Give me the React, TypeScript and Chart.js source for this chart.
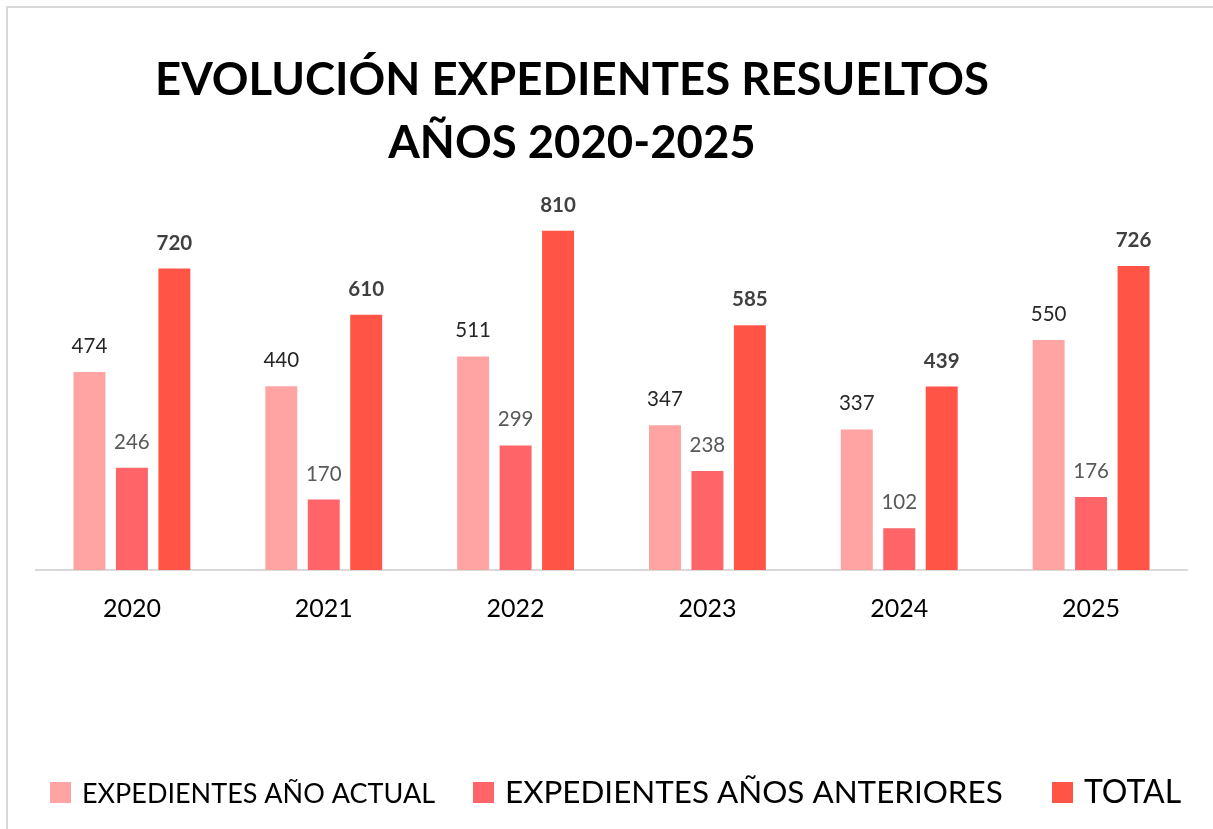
import React, { useEffect, useRef } from "react";
import { Chart, registerables } from "chart.js";

Chart.register(...registerables);

// ---- Data ----
const YEARS = ["2020", "2021", "2022", "2023", "2024", "2025"];
const ACTUAL = [474, 440, 511, 347, 337, 550];
const ANTERIORES = [246, 170, 299, 238, 102, 176];
const TOTAL = [720, 610, 810, 585, 439, 726];
const SERIES_NAMES = ["EXPEDIENTES AÑO ACTUAL", "EXPEDIENTES AÑOS ANTERIORES", "TOTAL"];
const SERIES_COLORS = ["#FFA3A3", "#FF6469", "#FF5446"];
const TITLE_LINES = ["EVOLUCIÓN EXPEDIENTES RESUELTOS", "AÑOS 2020-2025"];

const FONT = "Lato, 'Open Sans', sans-serif";

const titlePlugin = {
  id: "customTitle",
  afterDraw(chart: any) {
    const ctx = chart.ctx;
    ctx.save();
    ctx.fillStyle = "#000000";
    ctx.textAlign = "center";
    ctx.textBaseline = "alphabetic";
    ctx.font = `bold 45.5px ${FONT}`;
    ctx.fillText(TITLE_LINES[0], 572, 95);
    ctx.fillText(TITLE_LINES[1], 572, 158);
    ctx.restore();
  },
};

const LABEL_STYLES = [
  { font: `20.5px ${FONT}`, color: "#262626" },
  { font: `20.5px ${FONT}`, color: "#595959" },
  { font: `bold 20.5px ${FONT}`, color: "#404040" },
];

const valueLabelPlugin = {
  id: "valueLabels",
  afterDatasetsDraw(chart: any) {
    const ctx = chart.ctx;
    ctx.save();
    ctx.textAlign = "center";
    ctx.textBaseline = "alphabetic";
    chart.data.datasets.forEach((ds: any, i: number) => {
      const meta = chart.getDatasetMeta(i);
      ctx.font = LABEL_STYLES[i].font;
      ctx.fillStyle = LABEL_STYLES[i].color;
      meta.data.forEach((bar: any, j: number) => {
        ctx.fillText(String(ds.data[j]), bar.x, bar.y - 18);
      });
    });
    ctx.restore();
  },
};

const LEGEND_LAYOUT = [
  { boxX: 50, size: 27 },
  { boxX: 473, size: 31.4 },
  { boxX: 1052, size: 32 },
];

const legendPlugin = {
  id: "customLegend",
  afterDraw(chart: any) {
    const ctx = chart.ctx;
    ctx.save();
    ctx.textAlign = "left";
    ctx.textBaseline = "alphabetic";
    chart.data.datasets.forEach((ds: any, i: number) => {
      const L = LEGEND_LAYOUT[i];
      ctx.fillStyle = ds.backgroundColor;
      ctx.fillRect(L.boxX, 782, 21, 21);
      ctx.fillStyle = "#000000";
      ctx.font = `${L.size}px ${FONT}`;
      ctx.fillText(ds.label, L.boxX + 32, 803);
    });
    ctx.restore();
  },
};

export default function App() {
  const canvasRef = useRef<HTMLCanvasElement | null>(null);

  useEffect(() => {
    if (!canvasRef.current) return;
    const series = [ACTUAL, ANTERIORES, TOTAL];
    const chart = new Chart(canvasRef.current, {
      type: "bar",
      data: {
        labels: YEARS,
        datasets: series.map((d, i) => ({
          label: SERIES_NAMES[i],
          data: d,
          backgroundColor: SERIES_COLORS[i],
          borderColor: "rgba(255,255,255,0.35)",
          borderWidth: 1,
          categoryPercentage: 0.664,
          barPercentage: 0.8,
        })),
      },
      options: {
        responsive: false,
        animation: false,
        devicePixelRatio: 1,
        layout: { padding: { top: 192, left: 36, right: 26, bottom: 199 } },
        plugins: {
          legend: { display: false },
          title: { display: false },
          tooltip: { enabled: false },
        },
        scales: {
          x: {
            afterFit: (s: any) => {
              s.height = 60;
            },
            grid: { display: false, drawTicks: false },
            border: { display: true, color: "#D9D9D9", width: 2 },
            ticks: {
              color: "#000000",
              font: { family: FONT, size: 25 },
              padding: 24,
            },
          },
          y: {
            display: false,
            min: 0,
            max: 900,
          },
        },
      },
      plugins: [titlePlugin, valueLabelPlugin, legendPlugin],
    });
    return () => chart.destroy();
  }, []);

  return (
    <div
      style={{
        position: "fixed",
        left: 0,
        top: 0,
        width: 1213,
        height: 829,
        background: "#ffffff",
        overflow: "hidden",
      }}
    >
      <div
        style={{
          position: "absolute",
          left: 6,
          top: 6,
          right: -10,
          bottom: -10,
          borderLeft: "2px solid #D9D9D9",
          borderTop: "2px solid #D9D9D9",
        }}
      />
      <canvas
        ref={canvasRef}
        width={1213}
        height={829}
        style={{ position: "absolute", left: 0, top: 0, width: 1213, height: 829 }}
      />
    </div>
  );
}
